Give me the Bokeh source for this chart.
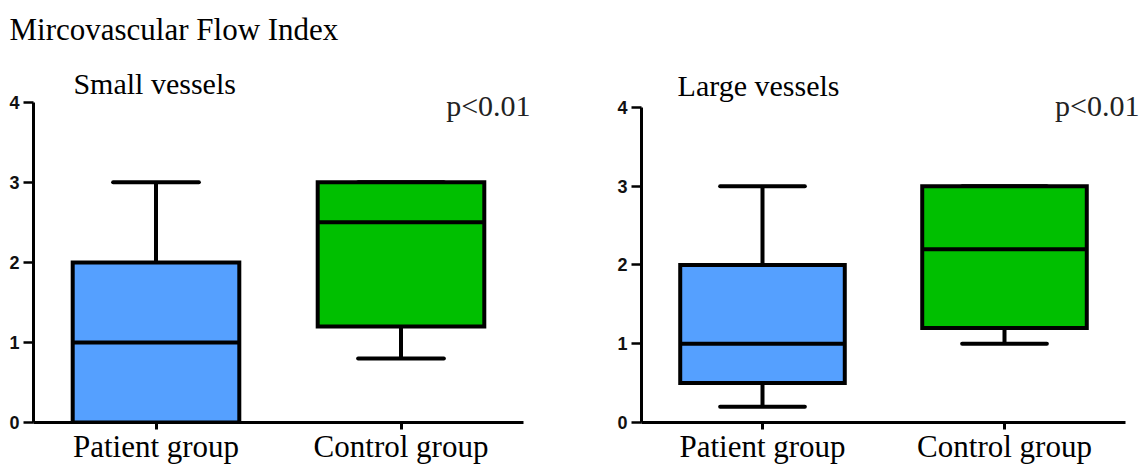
from bokeh.plotting import figure
from bokeh.models import Range1d, FixedTicker, Label, ColumnDataSource
from bokeh.layouts import row
from bokeh.embed import file_html
from bokeh.resources import INLINE

# ---- data ----
categories = ["Patient group", "Control group"]
y_ticks = [0, 1, 2, 3, 4]

small_min = [0.0, 0.8]
small_q1 = [0.0, 1.2]
small_median = [1.0, 2.5]
small_q3 = [2.0, 3.0]
small_max = [3.0, 3.0]

large_min = [0.2, 1.0]
large_q1 = [0.5, 1.2]
large_median = [1.0, 2.2]
large_q3 = [2.0, 3.0]
large_max = [3.0, 3.0]

main_title = "Mircovascular Flow Index"
p_text = "p<0.01"

box_colors = ["#55A0FF", "#00BF00"]
SERIF = "Liberation Serif"
BOX_W = 0.68
CAP_W = 0.35
HEIGHT = 466
FRAME_TOP = 46      # px, top of the plotting frame
FRAME_BOTTOM = 43   # px, border under the frame


def make_panel(width, border_left, border_right, px_x, px_y, y4_px, mins, q1, med, q3, maxs):
    # px_x: pixels per x unit, px_y: pixels per y unit, y4_px: pixel row of y=4
    frame_w = width - border_left - border_right
    x_end = 0.5 + frame_w / px_x
    y_end = 4 + (y4_px - FRAME_TOP) / px_y
    p = figure(width=width, height=HEIGHT, x_range=Range1d(0.5, x_end), y_range=Range1d(0, y_end),
               output_backend="svg", toolbar_location=None,
               min_border_left=border_left, min_border_top=FRAME_TOP,
               min_border_bottom=FRAME_BOTTOM, min_border_right=border_right)
    p.outline_line_color = None
    p.grid.visible = False
    xs = [i + 1 for i in range(len(categories))]
    src = ColumnDataSource(dict(
        x=xs, lo=mins, q1=q1, med=med, q3=q3, hi=maxs, color=box_colors,
        left=[x - BOX_W / 2 for x in xs], right=[x + BOX_W / 2 for x in xs],
        cl=[x - CAP_W / 2 for x in xs], cr=[x + CAP_W / 2 for x in xs],
    ))
    # whiskers
    p.segment(x0="x", x1="x", y0="q3", y1="hi", source=src, line_color="black", line_width=4)
    p.segment(x0="x", x1="x", y0="lo", y1="q1", source=src, line_color="black", line_width=4)
    p.segment(x0="cl", x1="cr", y0="hi", y1="hi", source=src, line_color="black", line_width=4, line_cap="round")
    p.segment(x0="cl", x1="cr", y0="lo", y1="lo", source=src, line_color="black", line_width=4, line_cap="round")
    # boxes
    p.vbar(x="x", width=BOX_W, bottom="q1", top="q3", source=src, fill_color="color",
           line_color="black", line_width=4, line_join="miter")
    # medians
    p.segment(x0="left", x1="right", y0="med", y1="med", source=src, line_color="black", line_width=4)

    # axes
    p.xaxis.bounds = (0.5, 2.5)
    p.xaxis.axis_label = None
    p.xaxis.ticker = FixedTicker(ticks=xs)
    p.xaxis.major_label_overrides = {x: c for x, c in zip(xs, categories)}
    p.xaxis.minor_tick_line_color = None
    p.xaxis.major_tick_in = 0
    p.xaxis.major_tick_out = 7
    p.xaxis.major_tick_line_width = 3
    p.xaxis.axis_line_width = 3
    p.xaxis.major_label_text_font = SERIF
    p.xaxis.major_label_text_font_size = "31px"
    p.xaxis.major_label_text_line_height = 1.0
    p.xaxis.major_label_text_color = "black"
    p.xaxis.major_label_standoff = -1

    p.yaxis.bounds = (0, 4)
    p.yaxis.axis_label = None
    p.yaxis.ticker = FixedTicker(ticks=y_ticks)
    p.yaxis.minor_tick_line_color = None
    p.yaxis.major_tick_in = 0
    p.yaxis.major_tick_out = 10
    p.yaxis.major_tick_line_width = 2.5
    p.yaxis.axis_line_width = 3
    p.yaxis.major_label_text_font = "Liberation Sans"
    p.yaxis.major_label_text_font_style = "bold"
    p.yaxis.major_label_text_font_size = "18px"
    p.yaxis.major_label_text_color = "#111111"
    p.yaxis.major_label_standoff = 4
    return p


p1 = make_panel(580, 33, 32, 245, 80.4, 102, small_min, small_q1, small_median, small_q3, small_max)
p2 = make_panel(562, 61, 0, 242, 79, 107, large_min, large_q1, large_median, large_q3, large_max)

p1.title.text = main_title
p1.title.align = "left"
p1.title.offset = -24
p1.title.standoff = 0
p1.title.text_font = SERIF
p1.title.text_font_size = "31px"
p1.title.text_font_style = "normal"
p1.title.text_color = "black"

p1.add_layout(Label(x=0.663, y=4.235, text="Small vessels", text_font=SERIF, text_font_size="30px",
                    text_color="black", text_baseline="alphabetic"))
p1.add_layout(Label(x=2.529, y=3.96, text=p_text, text_font=SERIF, text_font_size="30px",
                    text_color="#222222", text_align="right", text_baseline="alphabetic"))
p2.add_layout(Label(x=0.649, y=4.28, text="Large vessels", text_font=SERIF, text_font_size="30px",
                    text_color="black", text_baseline="alphabetic"))
p2.add_layout(Label(x=2.558, y=4.025, text=p_text, text_font=SERIF, text_font_size="30px",
                    text_color="#222222", text_align="right", text_baseline="alphabetic"))

layout = row(p1, p2)
open("out.html", "w").write(file_html(layout, INLINE))
